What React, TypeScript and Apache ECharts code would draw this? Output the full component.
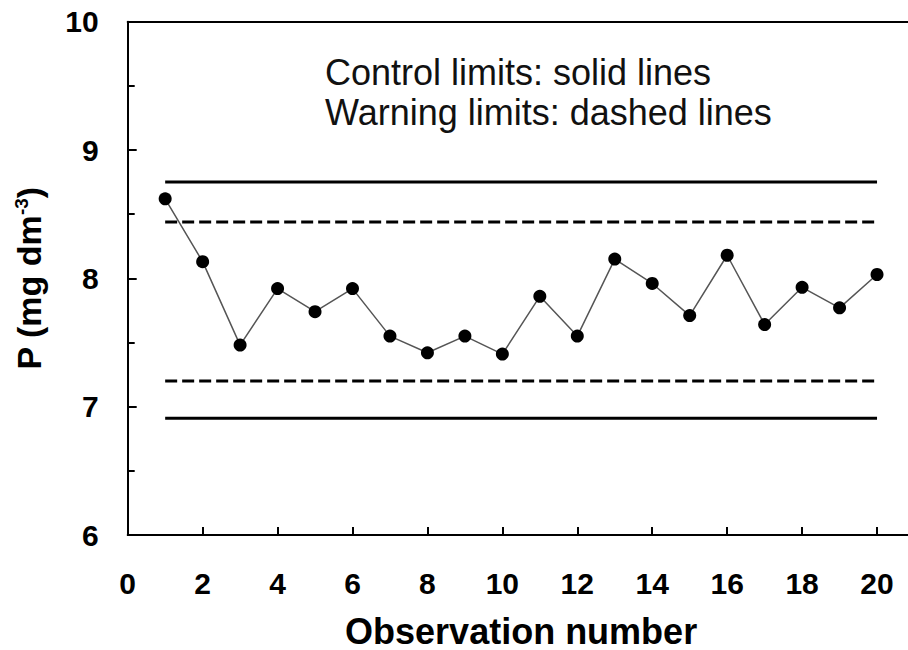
import React, { useEffect, useRef } from "react";
import * as echarts from "echarts";

const observations = [1, 2, 3, 4, 5, 6, 7, 8, 9, 10, 11, 12, 13, 14, 15, 16, 17, 18, 19, 20];
const phosphorus = [8.62, 8.13, 7.48, 7.92, 7.74, 7.92, 7.55, 7.42, 7.55, 7.41, 7.86, 7.55, 8.15, 7.96, 7.71, 8.18, 7.64, 7.93, 7.77, 8.03];
const upperControl = 8.75;
const upperWarning = 8.44;
const lowerWarning = 7.2;
const lowerControl = 6.91;
const noteLines = ["Control limits: solid lines", "Warning limits: dashed lines"];

const FONT = "'Liberation Sans', Arial, sans-serif";

export default function App() {
  const ref = useRef<HTMLDivElement>(null);
  useEffect(() => {
    if (!ref.current) return;
    const chart = echarts.init(ref.current, null, { renderer: "svg" });
    const first = observations[0];
    const last = observations[observations.length - 1];
    const limitSeries = (v: number, dashed: boolean) => ({
      type: "line",
      data: [[first, v], [last, v]],
      symbol: "none",
      silent: true,
      lineStyle: { color: "#000", width: 3, type: dashed ? [12, 5] : "solid" },
      z: 2,
    });
    chart.setOption({
      animation: false,
      backgroundColor: "#fff",
      textStyle: { fontFamily: FONT },
      grid: { left: 127.7, top: 21.7, bottom: 115, right: -6.5, containLabel: false, outerBoundsMode: "none" },
      xAxis: [
        {
          type: "value",
          min: 0,
          max: 21,
          interval: 2,
          name: "Observation number",
          nameLocation: "middle",
          nameGap: 81,
          nameTextStyle: { fontSize: 36, lineHeight: 30, fontWeight: "bold", color: "#000", fontFamily: FONT },
          axisLine: { show: true, onZero: false, lineStyle: { color: "#000", width: 2 } },
          axisTick: { show: true, inside: true, length: 8, lineStyle: { color: "#000", width: 2 } },
          axisLabel: { showMaxLabel: false, margin: 33, fontSize: 30, fontWeight: "bold", color: "#000", fontFamily: FONT },
          splitLine: { show: false },
        },
        {
          type: "value",
          position: "top",
          min: 0,
          max: 21,
          axisLine: { show: true, onZero: false, lineStyle: { color: "#000", width: 2 } },
          axisTick: { show: false },
          axisLabel: { show: false },
          splitLine: { show: false },
        },
      ],
      yAxis: {
        type: "value",
        min: 6,
        max: 10,
        interval: 1,
        name: "{b|P (mg dm}{s|-3}{b|)}",
        nameLocation: "middle",
        nameGap: 82,
        nameRotate: 90,
        nameTextStyle: {
          color: "#000",
          fontFamily: FONT,
          rich: {
            b: { fontSize: 34, fontWeight: "bold", color: "#000", fontFamily: FONT },
            s: { fontSize: 19, fontWeight: "bold", color: "#000", fontFamily: FONT, verticalAlign: "top", padding: [0, 0, 14, 0] },
          },
        },
        axisLine: { show: true, lineStyle: { color: "#000", width: 2 } },
        axisTick: { show: true, inside: true, length: 9, lineStyle: { color: "#000", width: 2 } },
        minorTick: { show: true, splitNumber: 2, length: 7, lineStyle: { color: "#000", width: 2 } },
        axisLabel: { margin: 29, fontSize: 30, fontWeight: "bold", color: "#000", fontFamily: FONT },
        splitLine: { show: false },
      },
      graphic: noteLines.map((t, i) => ({
        type: "text",
        left: 325,
        top: 54 + i * 40,
        style: { text: t, font: `36px ${FONT}`, fill: "#111" },
        z: 10,
      })),
      series: [
        limitSeries(upperControl, false),
        limitSeries(upperWarning, true),
        limitSeries(lowerWarning, true),
        limitSeries(lowerControl, false),
        {
          type: "line",
          data: observations.map((x, i) => [x, phosphorus[i]]),
          symbol: "circle",
          symbolSize: 13,
          itemStyle: { color: "#000" },
          lineStyle: { color: "#555", width: 1.5 },
          z: 5,
        },
      ],
    });
    return () => chart.dispose();
  }, []);
  return (
    <div
      ref={ref}
      style={{ position: "fixed", left: 0, top: 0, width: 908, height: 650, background: "#fff" }}
    />
  );
}
